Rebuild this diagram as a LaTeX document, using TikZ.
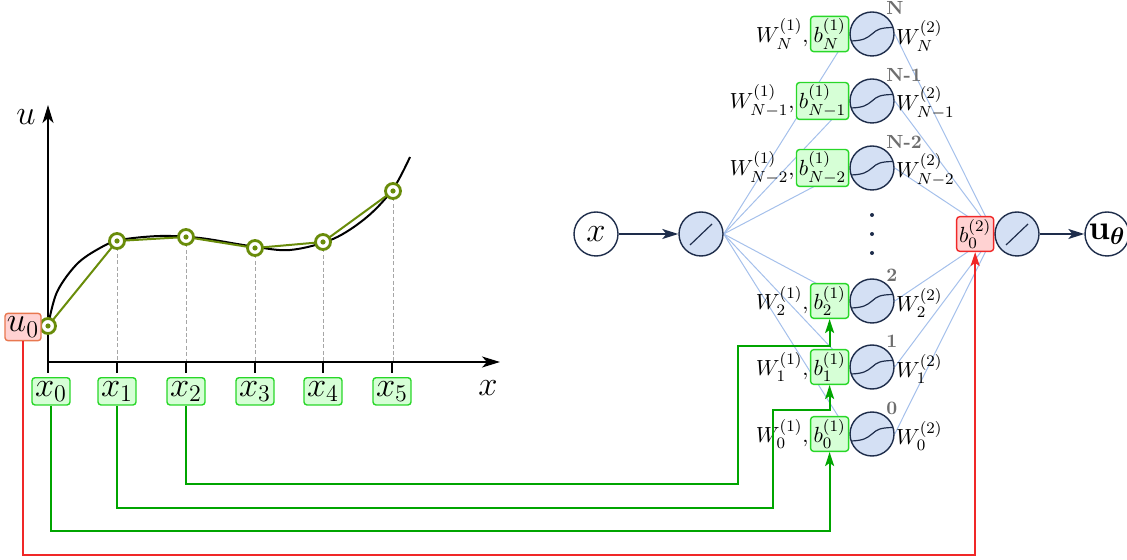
\documentclass[tikz,border=0pt]{standalone}
\usepackage{amsmath}
\usetikzlibrary{arrows.meta,calc}
\definecolor{nfill}{RGB}{212,224,244}
\definecolor{navy}{RGB}{30,45,75}
\definecolor{wline}{RGB}{165,192,235}
\definecolor{gfill}{RGB}{214,255,214}
\definecolor{gdraw}{RGB}{40,215,40}
\definecolor{gconn}{RGB}{0,165,0}
\definecolor{rfill}{RGB}{255,210,210}
\definecolor{rdraw}{RGB}{240,40,40}
\definecolor{odraw}{RGB}{232,120,80}
\definecolor{olivec}{RGB}{105,140,10}
\definecolor{labgray}{RGB}{110,110,110}
\pgfdeclarelayer{bg}
\pgfsetlayers{bg,main}
\begin{document}
\begin{tikzpicture}[x=0.5pt,y=-0.5pt,
  neuron/.style={circle,draw=navy,fill=nfill,line width=0.7pt,minimum size=22pt,inner sep=0pt},
  ionode/.style={circle,draw=navy,fill=white,line width=0.7pt,minimum size=22pt,inner sep=0pt},
  gbox/.style={draw=gdraw,fill=gfill,rounded corners=1.5pt,line width=0.7pt,inner xsep=1.2pt,inner ysep=1.2pt,minimum height=16.5pt,minimum width=19pt,font=\fontsize{11}{13}\selectfont},
  rbox/.style={draw=rdraw,fill=rfill,rounded corners=1.5pt,line width=0.7pt,inner xsep=1.2pt,inner ysep=1.2pt,minimum height=15.5pt,minimum width=18pt,font=\fontsize{11}{13}\selectfont},
  xbox/.style={draw=gdraw,fill=gfill,rounded corners=1.5pt,line width=0.7pt,inner xsep=1.5pt,inner ysep=1.8pt,font=\LARGE,anchor=north},
  wlab/.style={inner sep=0.5pt,font=\fontsize{11}{13}\selectfont},
  hlab/.style={font=\fontsize{9.5}{11}\selectfont\bfseries,text=labgray,anchor=west,inner sep=0pt},
  marker/.style={circle,draw=olivec,fill=white,line width=1.4pt,minimum size=7.5pt,inner sep=0pt},
  wconn/.style={draw=wline,line width=0.5pt},
  navyarrow/.style={draw=navy,line width=0.8pt,-{Stealth[length=8pt,width=5pt,inset=2pt]}},
  gconnector/.style={draw=gconn,line width=1pt,-{Stealth[length=7pt,width=4.5pt,inset=1.5pt]}},
  rconnector/.style={draw=rdraw,line width=1pt,-{Stealth[length=7pt,width=4.5pt,inset=1.5pt]}},
  axis/.style={line width=1pt,-{Stealth[length=9pt,width=5.5pt,inset=2.5pt]}},
  sig/.style={draw=navy,line width=0.6pt}
]
\useasboundingbox (0,0) rectangle (1127,560);

% ---------------- left plot ----------------
\coordinate (O) at (48,362);
\coordinate (Ytip) at (48,105);
\coordinate (Xtip) at (500,362);
\draw[axis] (O) -- (Ytip);
\draw[axis] (O) -- (Xtip);
\node[font=\LARGE] (ulab) at (26,117) {$u$};
\node[font=\LARGE] (xlab) at (488,388) {$x$};

\foreach \i/\xx in {0/48,1/117,2/186,3/255,4/323,5/392}{
  \coordinate (t\i) at (\xx,362);
  \draw[line width=1pt] (t\i) -- ++(0,11);
}
\node[xbox] (x0) at (51,377) {$x_0$};
\node[xbox] (x1) at (117,377) {$x_1$};
\node[xbox] (x2) at (186,377) {$x_2$};
\node[xbox] (x3) at (255,377) {$x_3$};
\node[xbox] (x4) at (323,377) {$x_4$};
\node[xbox] (x5) at (392,377) {$x_5$};

\node[marker] (p0) at (48,326) {};
\node[marker] (p1) at (117,241) {};
\node[marker] (p2) at (186,237) {};
\node[marker] (p3) at (255,248) {};
\node[marker] (p4) at (323,242) {};
\node[marker] (p5) at (393,191) {};
\foreach \i in {0,...,5}{\fill[olivec] (p\i.center) circle (1.3pt);}

\begin{pgfonlayer}{bg}
  \draw[line width=1pt] plot[smooth,tension=0.55] coordinates {(48,326) (57,292) (77,264) (100,248) (120,240) (160,236) (200,238) (250,246) (290,250) (333,239) (367,217) (393,189) (410,157)};
  \draw[olivec,line width=1pt] (p0.center) -- (p1.center) -- (p2.center) -- (p3.center) -- (p4.center) -- (p5.center);
  \foreach \i in {1,...,5}{\draw[gray!70,line width=0.4pt,dash pattern=on 2pt off 1.2pt] (p\i.center) -- (p\i.center |- O);}
\end{pgfonlayer}

\node[draw=odraw,fill=rfill,rounded corners=1.5pt,line width=0.7pt,inner xsep=1pt,inner ysep=1.8pt,font=\LARGE] (u0) at (23,327) {$u_0$};

% ---------------- network ----------------
\node[ionode,font=\LARGE] (xin) at (596,234) {$x$};
\node[neuron] (lin) at (701,234) {};
\draw[navy,line width=0.6pt,shift={(lin.center)}] (-11,11) -- (11,-10);

\node[neuron] (hN) at (872,34) {};
\node[neuron] (hN1) at (872,101) {};
\node[neuron] (hN2) at (872,168) {};
\node[neuron] (h2) at (872,301) {};
\node[neuron] (h1) at (872,367) {};
\node[neuron] (h0) at (872,434) {};
\foreach \h in {hN,hN1,hN2,h2,h1,h0}{
  \draw[sig,shift={(\h.center)}] (-20.8,7) .. controls (-8,6.5) and (-5,4) .. (0,0) .. controls (5,-4.5) and (8,-6.3) .. (21,-6.5);
}
\fill[navy] (872,215) circle (1pt);
\fill[navy] (872,234) circle (1pt);
\fill[navy] (872,253) circle (1pt);

\node[hlab] (lN) at ($(hN.center)+(14,-26)$) {N};
\node[hlab] (lN1) at ($(hN1.center)+(14,-26)$) {N-1};
\node[hlab] (lN2) at ($(hN2.center)+(14,-26)$) {N-2};
\node[hlab] (l2) at ($(h2.center)+(14,-26)$) {2};
\node[hlab] (l1) at ($(h1.center)+(14,-26)$) {1};
\node[hlab] (l0) at ($(h0.center)+(14,-26)$) {0};

\node[gbox,anchor=east] (bN) at (hN.west) {$b_N^{(1)}$};
\node[gbox,anchor=east] (bN1) at (hN1.west) {$b_{N-1}^{(1)}$};
\node[gbox,anchor=east] (bN2) at (hN2.west) {$b_{N-2}^{(1)}$};
\node[gbox,anchor=east] (b2) at (h2.west) {$b_2^{(1)}$};
\node[gbox,anchor=east] (b1) at (h1.west) {$b_1^{(1)}$};
\node[gbox,anchor=east] (b0) at (h0.west) {$b_0^{(1)}$};

\node[wlab,anchor=east] (wN) at (bN.west) {$W_N^{(1)},$};
\node[wlab,anchor=east] (wN1) at (bN1.west) {$W_{N-1}^{(1)},$};
\node[wlab,anchor=east] (wN2) at (bN2.west) {$W_{N-2}^{(1)},$};
\node[wlab,anchor=east] (w2) at (b2.west) {$W_2^{(1)},$};
\node[wlab,anchor=east] (w1) at (b1.west) {$W_1^{(1)},$};
\node[wlab,anchor=east] (w0) at (b0.west) {$W_0^{(1)},$};

\node[wlab,anchor=west] (vN) at ($(hN.east)+(0,2)$) {$W_N^{(2)}$};
\node[wlab,anchor=west] (vN1) at ($(hN1.east)+(0,2)$) {$W_{N-1}^{(2)}$};
\node[wlab,anchor=west] (vN2) at ($(hN2.east)+(0,2)$) {$W_{N-2}^{(2)}$};
\node[wlab,anchor=west] (v2) at ($(h2.east)+(0,2)$) {$W_2^{(2)}$};
\node[wlab,anchor=west] (v1) at ($(h1.east)+(0,2)$) {$W_1^{(2)}$};
\node[wlab,anchor=west] (v0) at ($(h0.east)+(0,2)$) {$W_0^{(2)}$};

\node[neuron] (lout) at (1017,234) {};
\draw[navy,line width=0.6pt,shift={(lout.center)}] (-11,11) -- (11,-10);
\node[rbox,anchor=east] (bout) at (lout.west) {$b_0^{(2)}$};
\node[ionode,font=\LARGE] (uth) at (1107,234) {$\mathbf{u}_{\boldsymbol{\theta}}$};

\begin{pgfonlayer}{bg}
  \foreach \h in {hN,hN1,hN2,h2,h1,h0}{
    \draw[wconn] (lin.east) -- (\h.west);
    \draw[wconn] (\h.east) -- (lout.west);
  }
\end{pgfonlayer}

\draw[navyarrow] (xin.east) -- (lin.west);
\draw[navyarrow] (lout.east) -- (uth.west);

% ---------------- connectors ----------------
\coordinate (g0) at (833,531);
\coordinate (g1a) at (773,508);
\coordinate (g1b) at (773,410);
\coordinate (g2a) at (738,484);
\coordinate (g2b) at (738,346);
\coordinate (rr) at (977,555);

\draw[gconnector] (x0.south) |- (b0.south |- g0) -- (b0.south);
\draw[gconnector] (x1.south) |- (g1a) -- (g1b) -| (b1.south);
\draw[gconnector] (x2.south) |- (g2a) -- (g2b) -| (b2.south);
\draw[rconnector] (u0.south) |- (bout.south |- rr) -- (bout.south);
\end{tikzpicture}
\end{document}
